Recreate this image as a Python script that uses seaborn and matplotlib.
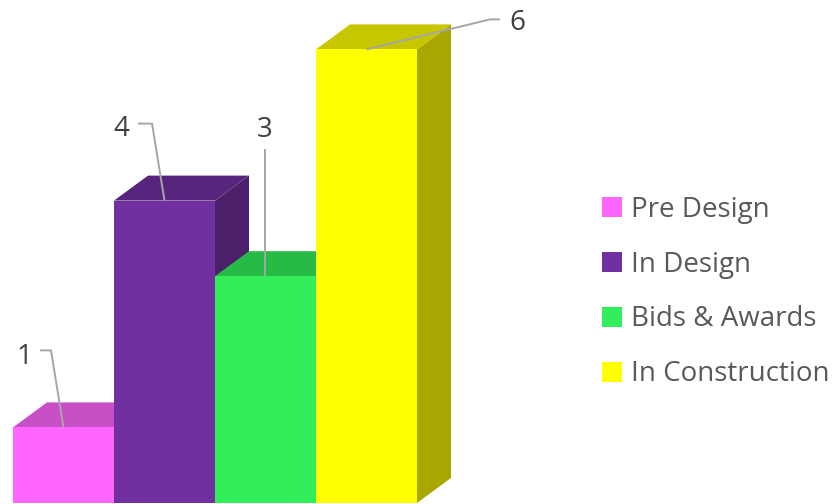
import matplotlib
matplotlib.use("Agg")
import matplotlib.pyplot as plt
from matplotlib.patches import Polygon
from matplotlib.colors import to_rgb
import seaborn as sns
import pandas as pd

# Project counts by phase
categories = ["Pre Design", "In Design", "Bids & Awards", "In Construction"]
counts = [1, 4, 3, 6]
colors = ["#FF66FF", "#7030A0", "#33EE5A", "#FFFF00"]

df = pd.DataFrame({"phase": categories, "count": counts})

sns.set_theme(style="white")
plt.rcParams["font.family"] = ["Open Sans", "DejaVu Sans"]

W, H, DPI = 832, 504, 100
fig = plt.figure(figsize=(W / DPI, H / DPI), dpi=DPI)

# axes box in pixels
left_px, right_px, bottom_px, top_px = 13, 460, 1, 504
ax = fig.add_axes([left_px / W, bottom_px / H,
                   (right_px - left_px) / W, (top_px - bottom_px) / H])

px_per_x = 101.0   # pixels per category slot
px_per_y = 75.6    # pixels per count unit

sns.barplot(data=df, x="phase", y="count", hue="phase", order=categories,
            hue_order=categories, palette=colors, width=1.0, saturation=1,
            legend=True, ax=ax, linewidth=0)

ax.set_xlim(-0.5, -0.5 + (right_px - left_px) / px_per_x)
ax.set_ylim(0, (top_px - bottom_px) / px_per_y)
ax.set_axis_off()

# pseudo-3D depth
depth_x = 34 / px_per_x
depth_y = 25 / px_per_y

bars = sorted([p for p in ax.patches if p.get_width() > 0 and p.get_height() > 0],
              key=lambda p: p.get_x())

def shade(c, f):
    r, g, b = to_rgb(c)
    return (r * f, g * f, b * f)

for i, (bar, col) in enumerate(zip(bars, colors)):
    x0, w, h = bar.get_x(), bar.get_width(), bar.get_height()
    bar.set_zorder(2 * i + 3)
    top = Polygon([(x0, h), (x0 + w, h), (x0 + w + depth_x, h + depth_y),
                   (x0 + depth_x, h + depth_y)], closed=True,
                  facecolor=shade(col, 0.78), edgecolor="none", zorder=2 * i + 2)
    side = Polygon([(x0 + w, 0), (x0 + w + depth_x, depth_y),
                    (x0 + w + depth_x, h + depth_y), (x0 + w, h)], closed=True,
                   facecolor=shade(col, 0.66), edgecolor="none", zorder=2 * i + 2)
    ax.add_patch(side)
    ax.add_patch(top)

# value labels with leader lines, offsets in pixels from the bar's top-front centre
leader_paths = [
    [(-23.5, 77), (-12.5, 77), (0, 0)],
    [(-26.5, 77), (-12.5, 77), (0, 0)],
    [(0, 127), (0, 0)],
    [(133.5, 30), (123.5, 30), (0, 0)],
]
text_offsets = [(-39.5, 70), (-43.5, 72), (-1, 146), (150.5, 26)]

for bar, val, path, toff in zip(bars, counts, leader_paths, text_offsets):
    cx = bar.get_x() + bar.get_width() / 2
    cy = val
    xs = [cx + dx / px_per_x for dx, dy in path]
    ys = [cy + dy / px_per_y for dx, dy in path]
    ax.plot(xs, ys, color="#A6A6A6", lw=1.4, zorder=20,
            solid_capstyle="butt", clip_on=False)
    ax.text(cx + toff[0] / px_per_x, cy + toff[1] / px_per_y, f"{val}",
            ha="center", va="center", fontsize=20, color="#404040",
            zorder=21, clip_on=False)

# legend on the right
leg = ax.get_legend()
handles = leg.legend_handles
leg.remove()
fig.legend(handles, categories, loc="center left",
           bbox_to_anchor=(602 / W, 1 - 292 / H), frameon=False,
           fontsize=20, labelcolor="#595959", handlelength=0.72,
           handleheight=0.72, handletextpad=0.32, labelspacing=0.97,
           borderaxespad=0, borderpad=0)

fig.savefig("out.png", dpi=DPI)
